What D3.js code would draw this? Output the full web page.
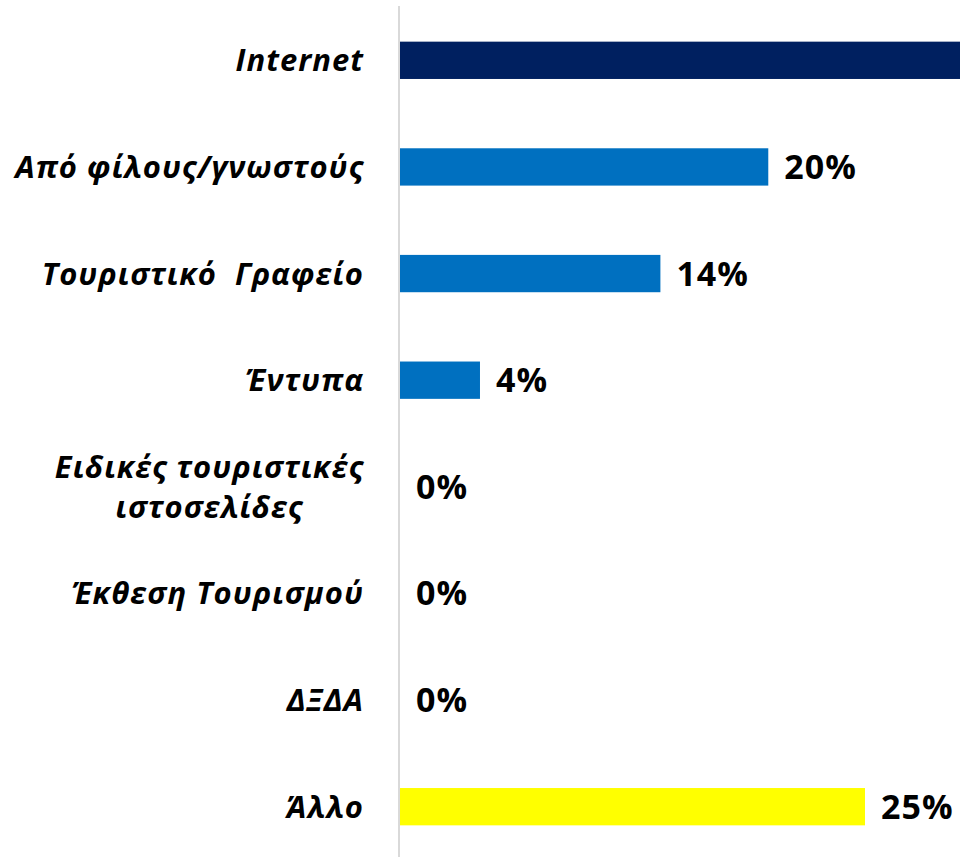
<!DOCTYPE html>
<html>
<head>
<meta charset="utf-8">
<script src="https://cdn.jsdelivr.net/npm/d3@7"></script>
<style>
  html, body { margin: 0; padding: 0; background: #fff; overflow: hidden; }
  text { font-family: "Open Sans", "Noto Sans", sans-serif; fill: #000; white-space: pre; }
</style>
</head>
<body>
<script>
// categories, top to bottom
var categories = [
  "Internet",
  "Από φίλους/γνωστούς",
  "Τουριστικό  Γραφείο",
  "Έντυπα",
  "Ειδικές τουριστικές\nιστοσελίδες",
  "Έκθεση Τουρισμού",
  "ΔΞΔΑ",
  "Άλλο"
];
// share of answers, in percent
var values = [36.9, 19.8, 14.0, 4.3, 0, 0, 0, 25.0];
var barColors = ["#002060", "#0070C0", "#0070C0", "#0070C0", "#0070C0", "#0070C0", "#0070C0", "#FFFF00"];

var w = 960;
var h = 857;
var capH = 11;      // half of the cap height, to centre text on a bar
var lineH = 40;

var svg = d3.select("body")
            .append("svg")
            .attr("width", w)
            .attr("height", h);

var x = d3.scaleLinear()
          .domain([0, 30])
          .range([400, 958]);

var y = d3.scaleBand()
          .domain(categories)
          .range([7, 860])
          .paddingInner(0.65)
          .paddingOuter(0.325);

var rows = values.map(function(v, i) {
  return {name: categories[i], value: v, color: barColors[i]};
});

// bars
svg.selectAll("rect")
  .data(rows)
  .enter()
  .append("rect")
  .attr("x", x(0))
  .attr("y", function(d) { return y(d.name); })
  .attr("width", function(d) { return x(d.value) - x(0); })
  .attr("height", y.bandwidth())
  .attr("fill", function(d) { return d.color; });

// category axis on the left
var axis = svg.append("g")
  .attr("transform", "translate(399,0)")
  .call(d3.axisLeft(y).tickSize(0).tickPadding(35));

axis.select(".domain")
  .attr("stroke", "#d9d9d9")
  .attr("stroke-width", 2)
  .attr("d", "M0,6V857");

axis.selectAll(".tick text")
  .attr("font-size", 31)
  .attr("font-weight", "bold")
  .attr("font-style", "italic")
  .attr("letter-spacing", 1)
  .attr("fill", "#000")
  .attr("dy", null)
  .each(function(d) {
    var el = d3.select(this);
    var lines = d.split("\n");
    el.text(null);
    var spans = lines.map(function(line, i) {
      return el.append("tspan")
        .attr("x", -35)
        .attr("y", capH + (i - (lines.length - 1) / 2) * lineH)
        .text(line);
    });
    // extra lines sit centred under the first one
    if (lines.length > 1) {
      var first = spans[0].node().getComputedTextLength();
      spans.slice(1).forEach(function(s) {
        s.attr("x", -35 - first / 2).attr("text-anchor", "middle");
      });
    }
  });

// value labels (the Internet one runs off the picture, as in the original)
svg.selectAll(".num")
  .data(rows.filter(function(d) { return x(d.value) + 16 < w; }))
  .enter()
  .append("text")
  .attr("class", "num")
  .attr("x", function(d) { return x(d.value) + 16; })
  .attr("y", function(d) { return y(d.name) + y.bandwidth() / 2 + 12; })
  .attr("font-size", 34)
  .attr("font-weight", "bold")
  .attr("letter-spacing", 1)
  .text(function(d) { return Math.round(d.value) + "%"; });
</script>
</body>
</html>
